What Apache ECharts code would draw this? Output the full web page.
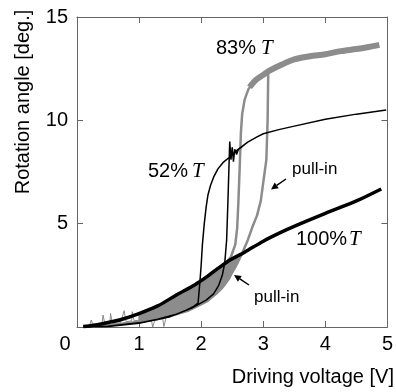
<!DOCTYPE html>
<html><head><meta charset="utf-8">
<script src="https://cdn.jsdelivr.net/npm/echarts@6/dist/echarts.min.js"></script>
<style>html,body{margin:0;padding:0;background:#fff}#c{width:396px;height:392px}</style>
</head><body><div id="c"></div>
<script>
// ---- data ----
var xTicks = [0, 1, 2, 3, 4, 5];
var yTicks = [5, 10, 15];

// 100% T (thick black, no hysteresis)
var v100 = [0.1, 0.3, 0.5, 0.7, 1.0, 1.3, 1.6, 1.9, 2.1, 2.3, 2.5, 2.7, 3.0, 3.3, 3.6, 4.0, 4.5, 4.9];
var a100 = [0.02, 0.1, 0.22, 0.35, 0.65, 1.02, 1.55, 2.05, 2.45, 2.9, 3.3, 3.62, 4.15, 4.6, 5.0, 5.5, 6.1, 6.68];

// 52% T (thin black) : up sweep then down sweep
var v52 = [0.1, 0.5, 1.0, 1.3, 1.6, 1.84, 2.08, 2.2, 2.28, 2.34, 2.38, 2.41, 2.43, 2.45, 2.46, 2.48, 2.5, 2.52, 2.54, 2.57, 2.6, 2.65, 2.75, 2.9, 3.0, 3.25, 3.5, 4.0, 4.5, 4.98,
           4.5, 4.0, 3.5, 3.25, 3.0, 2.9, 2.75, 2.59, 2.45, 2.35, 2.27, 2.2, 2.15, 2.11, 2.08, 2.05, 2.02, 2.0, 1.98, 1.95, 1.88, 1.75, 1.5, 1.0, 0.5, 0.1];
var a52 = [0.0, 0.04, 0.2, 0.38, 0.62, 0.9, 1.3, 1.6, 2.0, 2.5, 3.1, 4.2, 6.0, 8.0, 8.97, 8.1, 8.7, 8.0, 8.6, 8.35, 8.6, 8.7, 8.95, 9.2, 9.35, 9.55, 9.72, 10.05, 10.3, 10.5,
           10.3, 10.05, 9.72, 9.55, 9.35, 9.2, 8.95, 8.58, 8.2, 7.95, 7.65, 7.25, 6.85, 6.4, 5.8, 5.0, 4.0, 3.0, 2.2, 1.15, 1.0, 0.8, 0.5, 0.18, 0.03, 0.0];

// 83% T (gray) : up sweep (pull-in), saturated top, down sweep (release)
var v83up = [0.1, 0.5, 1.0, 1.4, 1.8, 2.1, 2.3, 2.45, 2.55, 2.65, 2.75, 2.82, 2.9, 2.96, 3.0, 3.05, 3.07, 3.08];
var a83up = [0.0, 0.08, 0.25, 0.45, 0.8, 1.25, 1.8, 2.4, 2.9, 3.5, 4.2, 4.8, 5.4, 6.1, 7.0, 8.1, 10.0, 12.3];
var v83top = [2.78, 2.88, 3.0, 3.1, 3.3, 3.5, 3.75, 4.0, 4.25, 4.5, 4.7, 4.87];
var a83top = [11.6, 11.95, 12.2, 12.4, 12.7, 12.95, 13.1, 13.2, 13.35, 13.45, 13.55, 13.65];
var v83dn = [2.9, 2.85, 2.76, 2.7, 2.66, 2.64, 2.62, 2.6, 2.58, 2.55, 2.48, 2.3, 2.0, 1.6, 1.2, 0.8, 0.4, 0.1];
var a83dn = [12.0, 11.85, 11.5, 11.0, 10.3, 9.4, 7.7, 6.1, 4.8, 4.0, 3.4, 2.75, 2.1, 1.45, 0.85, 0.45, 0.15, 0.02];

// 83% T noise spikes at low voltage
var v83noise = [0.2, 0.23, 0.26, 0.4, 0.42, 0.45, 0.53, 0.54, 0.57, 0.7, 0.76, 0.79, 0.88, 0.89, 0.92, 1.05, 1.2, 1.22, 1.25, 1.38, 1.4, 1.43];
var a83noise = [0.05, 0.34, 0.05, 0.1, 0.58, 0.12, 0.15, 0.66, 0.15, 0.2, 0.79, 0.25, 0.3, 0.74, 0.3, 0.35, 0.3, 0.0, 0.3, 0.4, 0.02, 0.4];

// 83% T noisy band at low voltage (outline: upper edge then lower edge)
var vBand = [1.0, 1.3, 1.6, 1.9, 2.1, 2.3, 2.5, 2.6, 2.55, 2.45, 2.35, 2.25, 2.1, 1.9, 1.6, 1.3, 1.0];
var aBand = [0.6, 0.95, 1.45, 1.95, 2.3, 2.75, 3.25, 3.45, 2.9, 2.3, 1.9, 1.6, 1.25, 0.95, 0.6, 0.38, 0.22];

function pairs(xs, ys) { return xs.map(function (x, i) { return [x, ys[i]]; }); }

var FONT = '"Liberation Sans", Arial, sans-serif';
var AXC = '#666';
var GRAY = '#8c8c8c';

var chart = echarts.init(document.getElementById('c'), null, {renderer: 'canvas'});

var baseX = {
  type: 'value', min: xTicks[0], max: xTicks[xTicks.length - 1], interval: 1,
  axisLine: {show: true, onZero: false, lineStyle: {color: AXC, width: 1}},
  axisTick: {show: true, inside: true, length: 6, lineStyle: {color: AXC}},
  splitLine: {show: false}
};
var baseY = {
  type: 'value', min: 0, max: yTicks[yTicks.length - 1], interval: 5,
  axisLine: {show: true, onZero: false, lineStyle: {color: AXC, width: 1}},
  axisTick: {show: true, inside: true, length: 6, lineStyle: {color: AXC}},
  splitLine: {show: false}
};

function arrow(x1, y1, x2, y2) {
  var ang = Math.atan2(y2 - y1, x2 - x1), L = 7, W = 3.5;
  var bx = x2 - L * Math.cos(ang), by = y2 - L * Math.sin(ang);
  var px = -Math.sin(ang) * W, py = Math.cos(ang) * W;
  return [
    {type: 'line', shape: {x1: x1, y1: y1, x2: bx, y2: by}, style: {stroke: '#000', lineWidth: 1.5}},
    {type: 'polygon', shape: {points: [[x2, y2], [bx + px, by + py], [bx - px, by - py]]}, style: {fill: '#000'}}
  ];
}

var graphics = [
  {type: 'text', x: 23, y: 102, rotation: Math.PI / 2, style: {text: 'Rotation angle [deg.]', font: '20px ' + FONT, fill: '#000', textAlign: 'center', textVerticalAlign: 'middle'}},
  {type: 'text', x: 394, y: 377, style: {text: 'Driving voltage [V]', font: '20px ' + FONT, fill: '#000', textAlign: 'right', textVerticalAlign: 'middle'}},
  {type: 'text', x: 216, y: 48, style: {text: '83%', font: '20px ' + FONT, fill: '#000', textAlign: 'left', textVerticalAlign: 'middle'}},
  {type: 'text', x: 261, y: 48, style: {text: 'T', font: 'italic 21px "Liberation Serif", serif', fill: '#000', textAlign: 'left', textVerticalAlign: 'middle'}},
  {type: 'text', x: 148, y: 171, style: {text: '52%', font: '20px ' + FONT, fill: '#000', textAlign: 'left', textVerticalAlign: 'middle'}},
  {type: 'text', x: 192, y: 171, style: {text: 'T', font: 'italic 21px "Liberation Serif", serif', fill: '#000', textAlign: 'left', textVerticalAlign: 'middle'}},
  {type: 'text', x: 296, y: 239, style: {text: '100%', font: '20px ' + FONT, fill: '#000', textAlign: 'left', textVerticalAlign: 'middle'}},
  {type: 'text', x: 349, y: 239, style: {text: 'T', font: 'italic 21px "Liberation Serif", serif', fill: '#000', textAlign: 'left', textVerticalAlign: 'middle'}},
  {type: 'text', x: 292, y: 169, style: {text: 'pull-in', font: '17px ' + FONT, fill: '#000', textAlign: 'left', textVerticalAlign: 'middle'}},
  {type: 'text', x: 254, y: 297, style: {text: 'pull-in', font: '17px ' + FONT, fill: '#000', textAlign: 'left', textVerticalAlign: 'middle'}}
].concat(arrow(286, 179, 271, 189.5)).concat(arrow(249, 285, 234, 275));

function lineSeries(name, xs, ys, color, width, z, smooth) {
  return {name: name, type: 'line', data: pairs(xs, ys), showSymbol: false, symbol: 'none',
    smooth: smooth || false, lineStyle: {color: color, width: width}, z: z};
}

chart.setOption({
  animation: false,
  backgroundColor: '#fff',
  grid: {left: 77, right: 8, top: 17, bottom: 65, containLabel: false},
  xAxis: [
    Object.assign({}, baseX, {
      position: 'bottom',
      axisLabel: {
        show: true, margin: 7, color: '#000', fontSize: 20, fontFamily: FONT,
        formatter: function (v) { return v === 0 ? '{z|0}' : String(v); },
        rich: {z: {fontSize: 20, fontFamily: FONT, color: '#000', padding: [0, 24, 0, 0]}}
      }
    }),
    Object.assign({}, baseX, {position: 'top', axisLabel: {show: false}})
  ],
  yAxis: [
    Object.assign({}, baseY, {
      position: 'left',
      axisLabel: {show: true, margin: 9, color: '#000', fontSize: 20, fontFamily: FONT,
        formatter: function (v) { return v === 0 ? '' : String(v); }}
    }),
    Object.assign({}, baseY, {position: 'right', axisLabel: {show: false}})
  ],
  series: [
    {
      name: 'band', type: 'custom', xAxisIndex: 0, yAxisIndex: 0, silent: true,
      data: [[vBand[0], aBand[0]]],
      renderItem: function (params, api) {
        var pts = vBand.map(function (x, i) { return api.coord([x, aBand[i]]); });
        return {type: 'polygon', shape: {points: pts}, style: {fill: GRAY, stroke: GRAY, lineWidth: 1.5}};
      },
      z: 1
    },
    lineSeries('83% noise', v83noise, a83noise, GRAY, 1, 2),
    lineSeries('83% up', v83up, a83up, GRAY, 2.5, 2),
    lineSeries('83% down', v83dn, a83dn, GRAY, 2.5, 2),
    lineSeries('83% top', v83top, a83top, GRAY, 6, 2, 0.3),
    lineSeries('52% T', v52, a52, '#000', 1.5, 3),
    lineSeries('100% T', v100, a100, '#000', 3.5, 4, 0.3)
  ],
  graphic: graphics
});
</script></body></html>
